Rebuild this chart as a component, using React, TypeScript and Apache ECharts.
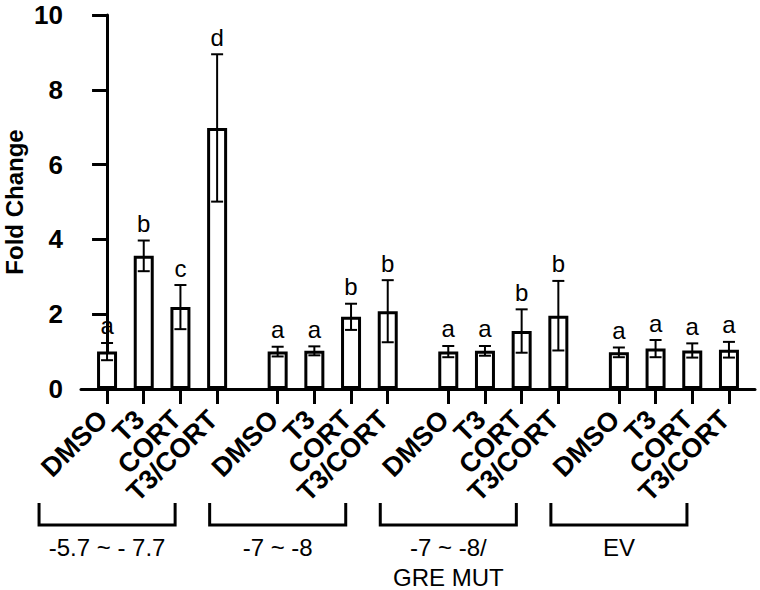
import React, { useEffect, useRef } from "react";
import * as echarts from "echarts";

const conditions = ["DMSO", "T3", "CORT", "T3/CORT"];
const groupNames = ["-5.7 ~ - 7.7", "-7 ~ -8", "-7 ~ -8/\nGRE MUT", "EV"];
const meanG1 = [1.0, 3.56, 2.19, 6.98];
const sdG1 = [0.23, 0.41, 0.59, 1.97];
const meanG2 = [1.0, 1.02, 1.93, 2.08];
const sdG2 = [0.13, 0.12, 0.35, 0.83];
const meanG3 = [1.0, 1.02, 1.55, 1.96];
const sdG3 = [0.15, 0.13, 0.58, 0.93];
const meanG4 = [0.98, 1.08, 1.03, 1.05];
const sdG4 = [0.13, 0.23, 0.19, 0.21];
const lettersG1 = ["a", "b", "c", "d"];
const lettersG2 = ["a", "a", "b", "b"];
const lettersG3 = ["a", "a", "b", "b"];
const lettersG4 = ["a", "a", "a", "a"];
const yTicks = [0, 2, 4, 6, 8, 10];

const means = [meanG1, meanG2, meanG3, meanG4];
const sds = [sdG1, sdG2, sdG3, sdG4];
const letters = [lettersG1, lettersG2, lettersG3, lettersG4];

const GROUP_STRIDE = 4.65;
const FONT = '"Liberation Sans", Arial, Helvetica, sans-serif';

export default function App() {
  const ref = useRef<HTMLDivElement>(null);
  useEffect(() => {
    if (!ref.current) return;
    const chart = echarts.init(ref.current, null, { renderer: "svg" });

    const positions: number[] = [];
    const names: string[] = [];
    const barData: number[][] = [];
    const errData: number[][] = [];
    const letterFlat: string[] = [];
    const groupData: number[][] = [];
    const tickLabelData: number[][] = [];
    means.forEach((g, gi) => {
      const start = gi * GROUP_STRIDE;
      g.forEach((m, i) => {
        const x = start + i;
        positions.push(x);
        names.push(conditions[i]);
        barData.push([x, m]);
        errData.push([x, m, sds[gi][i]]);
        letterFlat.push(letters[gi][i]);
        tickLabelData.push([x, 0]);
      });
      groupData.push([start, start + g.length - 1, gi]);
    });

    const option: any = {
      animation: false,
      backgroundColor: "#fff",
      grid: { left: 81, right: 5, top: 15, bottom: 201, containLabel: false, outerBoundsMode: "none" },
      xAxis: {
        type: "value",
        min: -0.71,
        max: 17.66,
        splitLine: { show: false },
        axisLine: { show: true, onZero: false, lineStyle: { color: "#000", width: 3 } },
        axisTick: {
          show: true,
          customValues: positions,
          length: 15,
          lineStyle: { color: "#000", width: 3 },
        },
        axisLabel: { show: false },
      },
      yAxis: {
        type: "value",
        min: 0,
        max: 10,
        interval: 2,
        name: "Fold Change",
        nameLocation: "middle",
        nameGap: 55,
        nameMoveOverlap: false,
        nameTextStyle: { color: "#000", fontFamily: FONT, fontWeight: "bold", fontSize: 24 },
        splitLine: { show: false },
        axisLine: { show: true, lineStyle: { color: "#000", width: 3 } },
        axisTick: { show: true, length: 15, lineStyle: { color: "#000", width: 3 } },
        axisLabel: {
          color: "#000",
          fontFamily: FONT,
          fontWeight: "bold",
          fontSize: 26,
          margin: 18,
          formatter: (v: number) => (yTicks.includes(v) ? String(v) : ""),
        },
      },
      series: [
        {
          type: "bar",
          data: barData,
          barWidth: 20,
          itemStyle: { color: "#fff", borderColor: "#000", borderWidth: 3 },
          z: 2,
        },
        {
          type: "custom",
          data: errData,
          z: 3,
          clip: false,
          renderItem: (params: any, api: any) => {
            const x = api.value(0);
            const m = api.value(1);
            const s = api.value(2);
            const top = api.coord([x, m + s]);
            const bot = api.coord([x, m - s]);
            const half = 6;
            const st = { stroke: "#000", lineWidth: 2 };
            return {
              type: "group",
              children: [
                { type: "line", shape: { x1: top[0], y1: top[1], x2: bot[0], y2: bot[1] }, style: st },
                { type: "line", shape: { x1: top[0] - half, y1: top[1], x2: top[0] + half, y2: top[1] }, style: st },
                { type: "line", shape: { x1: bot[0] - half, y1: bot[1], x2: bot[0] + half, y2: bot[1] }, style: st },
                {
                  type: "text",
                  x: top[0],
                  y: top[1] - 5,
                  style: {
                    text: letterFlat[params.dataIndex],
                    fill: "#000",
                    font: `24px ${FONT}`,
                    align: "center",
                    verticalAlign: "bottom",
                  },
                },
              ],
            };
          },
        },
        {
          type: "custom",
          data: tickLabelData,
          z: 3,
          clip: false,
          silent: true,
          renderItem: (params: any, api: any) => {
            const p = api.coord([api.value(0), 0]);
            return {
              type: "text",
              x: p[0] - 4,
              y: p[1] + 26,
              rotation: Math.PI / 4,
              style: {
                text: names[params.dataIndex],
                fill: "#000",
                font: `bold 27px ${FONT}`,
                align: "right",
                verticalAlign: "middle",
              },
            };
          },
        },
        {
          type: "custom",
          data: groupData,
          z: 3,
          clip: false,
          silent: true,
          renderItem: (params: any, api: any) => {
            const a = api.coord([api.value(0), 0]);
            const b = api.coord([api.value(1), 0]);
            const left = a[0] - 68;
            const right = b[0] - 42;
            const yTop = a[1] + 114;
            const yBot = a[1] + 136;
            return {
              type: "group",
              children: [
                {
                  type: "polyline",
                  shape: { points: [[left, yTop], [left, yBot], [right, yBot], [right, yTop]] },
                  style: { stroke: "#000", lineWidth: 3, fill: null },
                },
                {
                  type: "text",
                  x: (left + right) / 2,
                  y: a[1] + 143,
                  style: {
                    text: groupNames[params.dataIndex],
                    fill: "#000",
                    font: `24px ${FONT}`,
                    align: "center",
                    verticalAlign: "top",
                    lineHeight: 30,
                  },
                },
              ],
            };
          },
        },
      ],
    };
    chart.setOption(option);
    return () => chart.dispose();
  }, []);
  return <div ref={ref} style={{ width: 760, height: 590, position: "absolute", left: 0, top: 0 }} />;
}
